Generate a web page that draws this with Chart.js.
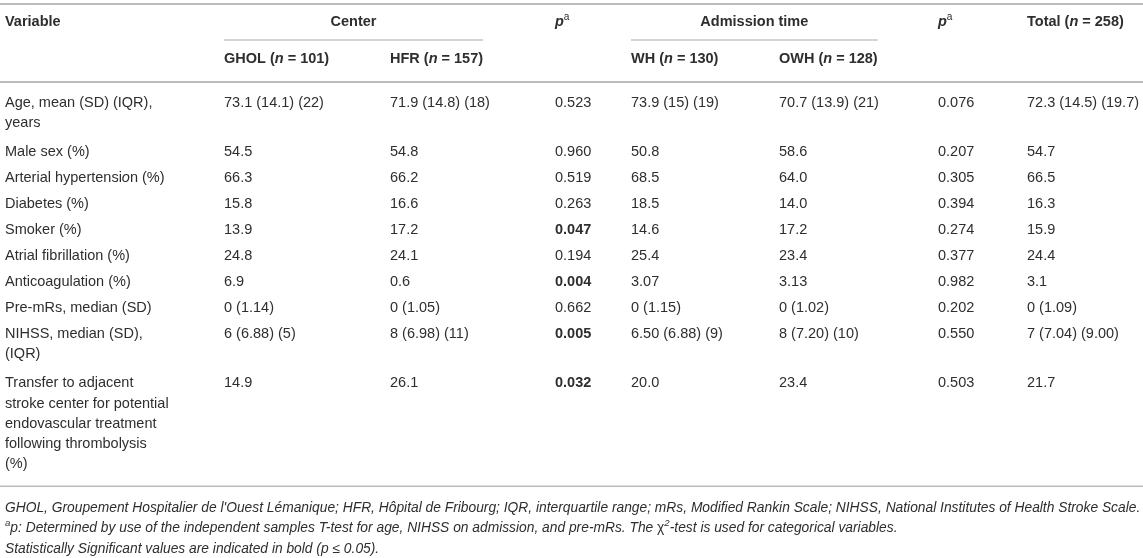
<!DOCTYPE html>
<html>
<head>
<meta charset="utf-8">
<script src="https://cdn.jsdelivr.net/npm/chart.js@4.4.1/dist/chart.umd.min.js"></script>
<style>
  html, body { margin: 0; padding: 0; background: #fff; }
  #wrap { width: 1143px; height: 558px; }
</style>
</head>
<body>
<div id="wrap"><canvas id="tbl" width="1143" height="558"></canvas></div>
<script>
// table content
let variables = [
  "Age, mean (SD) (IQR),\nyears",
  "Male sex (%)",
  "Arterial hypertensi<i>o</i>n (%)",
  "Diabetes (%)",
  "Smoker (%)",
  "Atrial fibrillation (%)",
  "Anticoagulation (%)",
  "Pre-mRs, median (SD)",
  "NIHSS, median (SD),\n(IQR)",
  "Transfer to adjacent\nstroke center for potential\nendovascular treatment\nfollowing thrombolysis\n(%)",
];
let ghol = ["73.1 (14.1) (22)", "54.5", "66.3", "15.8", "13.9", "24.8", "6.9", "0 (1.14)", "6 (6.88) (5)", "14.9"];
let hfr = ["71.9 (14.8) (18)", "54.8", "66.2", "16.6", "17.2", "24.1", "0.6", "0 (1.05)", "8 (6.98) (11)", "26.1"];
let pCenter = ["0.523", "0.960", "0.519", "0.263", "0.047", "0.194", "0.004", "0.662", "0.005", "0.032"];
let wh = ["73.9 (15) (19)", "50.8", "68.5", "18.5", "14.6", "25.4", "3.07", "0 (1.15)", "6.50 (6.88) (9)", "20.0"];
let owh = ["70.7 (13.9) (21)", "58.6", "64.0", "14.0", "17.2", "23.4", "3.13", "0 (1.02)", "8 (7.20) (10)", "23.4"];
let pAdmission = ["0.076", "0.207", "0.305", "0.394", "0.274", "0.377", "0.982", "0.202", "0.550", "0.503"];
let total = ["72.3 (14.5) (19.7)", "54.7", "66.5", "16.3", "15.9", "24.4", "3.1", "0 (1.09)", "7 (7.04) (9.00)", "21.7"];

let groupHeaders = ["Center", "Admission time"];
let topHeaders = ["Variable", "", "", "<i>p</i><sup>a</sup>", "", "", "<i>p</i><sup>a</sup>", "Total (<i>n</i> = 258)"];
let subHeaders = ["", "GHOL (<i>n</i> = 101)", "HFR (<i>n</i> = 157)", "", "WH (<i>n</i> = 130)", "OWH (<i>n</i> = 128)", "", ""];
let footnotes = [
  "GHOL, Groupement Hospitalier de l'Ouest Lémanique; HFR, Hôpital de Fribourg; IQR, interquartile range; mRs, Modified Rankin Scale; NIHSS, National Institutes of Health Stroke Scale.",
  "<sup>a</sup>p: Determined by use of the independent samples T-test for age, NIHSS on admission, and pre-mRs. The <u>χ</u><sup>2</sup>-test is used for categorical variables.",
  "Statistically Significant values are indicated in bold (p ≤ 0.05).",
];

// layout (pixel units of the hidden scales)
const colX = [5, 224, 390, 555, 631, 779, 938, 1027];
const groupCols = [[1, 2], [4, 5]];
const firstRowY = 103, lineH = 20.2, rowPitch = 26, multiExtra = 3;
const headY = 22, groupLineY = 40, subHeadY = 59;
const ruleTop = 4, ruleHead = 82;
const footLineH = 20.3;
const bodySize = 14.5, footSize = 13.8;
const ink = "#2e2e2e", rule = "#bcbcbc";
const fontFam = '"Liberation Sans", Arial, Helvetica, sans-serif';

const columns = [variables, ghol, hfr, pCenter, wh, owh, pAdmission, total];
const pCols = [3, 6];

// vertical position of every row from the line counts
let rowY = [];
let y = firstRowY;
let lastBottom = 0;
variables.forEach((v) => {
  rowY.push(y);
  const n = v.split("\n").length;
  lastBottom = y + (n - 1) * lineH;
  y += (n - 1) * lineH + rowPitch + (n > 1 ? multiExtra : 0);
});
const ruleBottom = lastBottom + 22;
const footY = ruleBottom + 22;

function fontFor(size, bold, italic) {
  return (italic ? "italic " : "") + (bold ? "bold " : "") + size + "px " + fontFam;
}

// draws a string with <i>, <b>, <sup>, <u> (upright) runs, returns its width
function drawRich(ctx, str, x, yy, size, baseBold, baseItalic, measureOnly) {
  const parts = str.split(/(<\/?(?:i|b|sup|u)>)/);
  let it = baseItalic, bd = baseBold, sup = false, up = false;
  let cx = x;
  parts.forEach((p) => {
    if (p === "<i>") { it = true; return; }
    if (p === "</i>") { it = baseItalic; return; }
    if (p === "<b>") { bd = true; return; }
    if (p === "</b>") { bd = baseBold; return; }
    if (p === "<sup>") { sup = true; return; }
    if (p === "</sup>") { sup = false; return; }
    if (p === "<u>") { up = true; return; }
    if (p === "</u>") { up = false; return; }
    if (!p) return;
    const s = sup ? size * 0.7 : size;
    ctx.font = fontFor(s, bd && !sup, up ? false : it);
    if (!measureOnly) ctx.fillText(p, cx, sup ? yy - size * 0.35 : yy);
    cx += ctx.measureText(p).width;
  });
  return cx - x;
}

const tablePlugin = {
  id: "tablePlugin",
  afterDraw(chart) {
    const ctx = chart.ctx;
    const xs = chart.scales.x, ys = chart.scales.y;
    const px = (v) => xs.getPixelForValue(v);
    const py = (v) => ys.getPixelForValue(v);
    ctx.save();
    ctx.textBaseline = "middle";
    ctx.fillStyle = ink;

    // rules
    ctx.strokeStyle = rule;
    ctx.lineWidth = 2;
    [ruleTop, ruleHead].forEach((r) => {
      ctx.beginPath(); ctx.moveTo(px(0), py(r)); ctx.lineTo(px(1143), py(r)); ctx.stroke();
    });
    ctx.lineWidth = 1.5;
    ctx.beginPath(); ctx.moveTo(px(0), py(ruleBottom)); ctx.lineTo(px(1143), py(ruleBottom)); ctx.stroke();

    // headers
    topHeaders.forEach((h, i) => { if (h) drawRich(ctx, h, px(colX[i]), py(headY), bodySize, true, false); });
    subHeaders.forEach((h, i) => { if (h) drawRich(ctx, h, px(colX[i]), py(subHeadY), bodySize, true, false); });

    // group headers centred over a rule that runs under both sub-headers
    ctx.lineWidth = 1;
    ctx.strokeStyle = "#a8a8a8";
    groupHeaders.forEach((g, i) => {
      const [a, b] = groupCols[i];
      const x0 = px(colX[a]);
      const x1 = px(colX[b]) + drawRich(ctx, subHeaders[b], 0, 0, bodySize, true, false, true);
      ctx.beginPath(); ctx.moveTo(x0, py(groupLineY)); ctx.lineTo(x1, py(groupLineY)); ctx.stroke();
      const w = drawRich(ctx, g, 0, 0, bodySize, true, false, true);
      drawRich(ctx, g, (x0 + x1) / 2 - w / 2, py(headY), bodySize, true, false);
    });

    // body cells, placed from the dataset points
    chart.data.datasets.forEach((ds, c) => {
      const meta = chart.getDatasetMeta(c);
      meta.data.forEach((pt, r) => {
        const txt = ds.cells[r];
        const bold = pCols.includes(c) && parseFloat(txt) <= 0.05;
        txt.split("\n").forEach((line, k) => {
          drawRich(ctx, line, pt.x, pt.y + k * lineH, bodySize, bold, false);
        });
      });
    });

    // footnotes
    footnotes.forEach((f, i) => {
      drawRich(ctx, f, px(colX[0]), py(footY + i * footLineH), footSize, false, true);
    });
    ctx.restore();
  },
};

const ctx = document.getElementById("tbl");
const myChart = new Chart(ctx, {
  type: "scatter",
  data: {
    datasets: columns.map((col, c) => ({
      label: "col" + c,
      cells: col,
      data: col.map((v, r) => ({ x: colX[c], y: rowY[r] })),
      pointRadius: 0,
      pointHoverRadius: 0,
    })),
  },
  options: {
    responsive: false,
    animation: false,
    events: [],
    layout: { padding: 0 },
    plugins: {
      legend: { display: false },
      tooltip: { enabled: false },
    },
    scales: {
      x: { type: "linear", min: 0, max: 1143, display: false },
      y: { type: "linear", min: 0, max: 558, reverse: true, display: false },
    },
  },
  plugins: [tablePlugin],
});
</script>
</body>
</html>
